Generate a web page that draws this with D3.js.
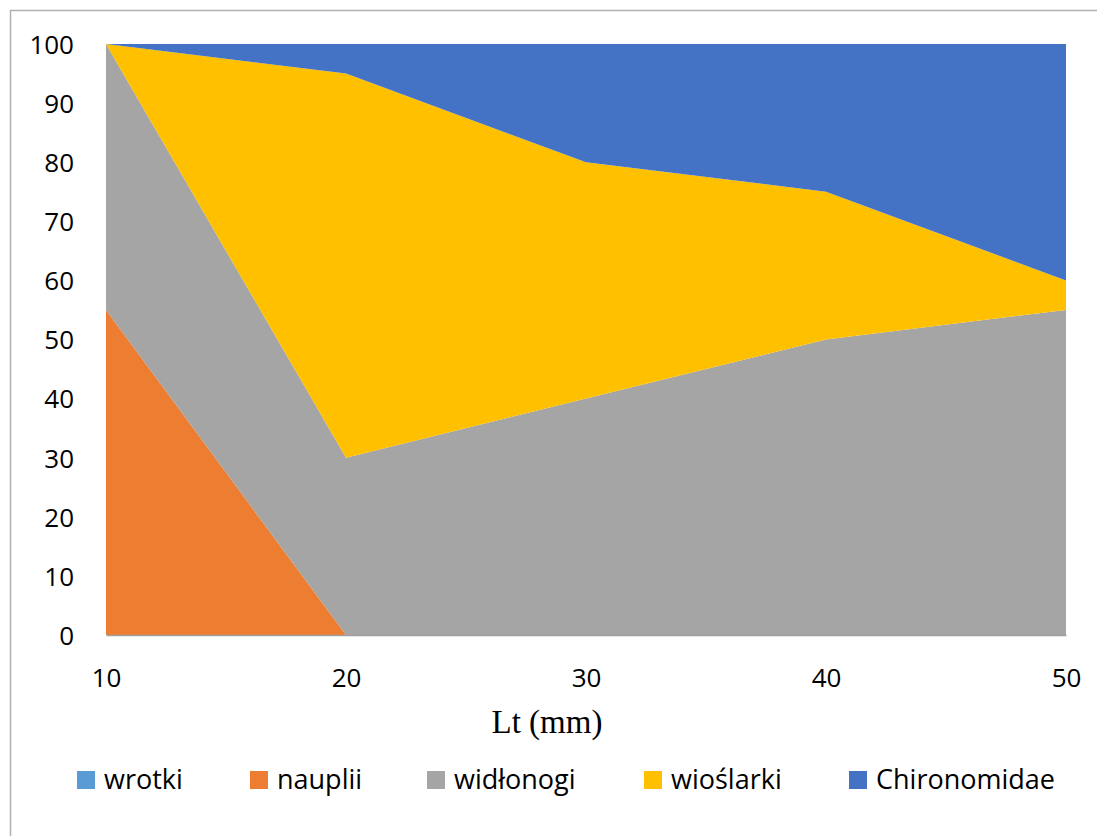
<!DOCTYPE html>
<html><head><meta charset="utf-8">
<script src="https://cdn.jsdelivr.net/npm/d3@7"></script>
<style>body{margin:0;background:#fff;}svg{display:block;}</style>
</head><body>
<script>
const categories = [10, 20, 30, 40, 50];
const seriesNames = ["wrotki", "nauplii", "widłonogi", "wioślarki", "Chironomidae"];
const wrotki = [0, 0, 0, 0, 0];
const nauplii = [55, 0, 0, 0, 0];
const widlonogi = [45, 30, 40, 50, 55];
const wioslarki = [0, 65, 40, 25, 5];
const chironomidae = [0, 5, 20, 25, 40];
const yTicks = [0, 10, 20, 30, 40, 50, 60, 70, 80, 90, 100];
const colors = ["#5B9BD5", "#ED7D31", "#A5A5A5", "#FFC000", "#4472C4"];

const W = 1097, H = 836;
const svg = d3.select("body").append("svg").attr("width", W).attr("height", H);
svg.append("rect").attr("x", 10.5).attr("y", 10.5).attr("width", W + 10).attr("height", H + 10)
  .attr("fill", "#fff").attr("stroke", "#b0b0b0").attr("stroke-width", 1.5);

const m = {l: 106, r: 1066, t: 44, b: 635};
const x = d3.scaleLinear().domain([10, 50]).range([m.l, m.r]);
const y = d3.scaleLinear().domain([0, 100]).range([m.b, m.t]);

const allSeries = [wrotki, nauplii, widlonogi, wioslarki, chironomidae];
const table = categories.map((c, i) => {
  const o = {x: c};
  seriesNames.forEach((n, k) => o[n] = allSeries[k][i]);
  return o;
});
const stacked = d3.stack().keys(seriesNames)(table);
const area = d3.area().x(d => x(d.data.x)).y0(d => y(d[0])).y1(d => y(d[1]));
svg.append("g").selectAll("path").data(stacked).join("path")
  .attr("d", area).attr("fill", (d, i) => colors[i]);

const font = "'Open Sans', 'Liberation Sans', sans-serif";

// axes
const yAxis = d3.axisLeft(y).tickValues(yTicks).tickSize(0).tickPadding(32);
const gy = svg.append("g").attr("transform", `translate(${m.l},0)`).call(yAxis);
gy.select(".domain").remove();
gy.selectAll("text").attr("font-family", font)
  .attr("font-size", 26).attr("fill", "#000").attr("dy", "0.36em");

const xAxis = d3.axisBottom(x).tickValues(categories).tickSize(0).tickPadding(0);
const gx = svg.append("g").attr("transform", `translate(0,${m.b})`).call(xAxis);
gx.select(".domain").attr("stroke", "#a0a0a0").attr("stroke-width", 1.5);
gx.selectAll("text").attr("font-family", font)
  .attr("font-size", 26).attr("fill", "#000").attr("dy", null).attr("y", 52);

svg.append("text").attr("x", 547).attr("y", 733).attr("text-anchor", "middle")
  .attr("font-family", "'Liberation Serif', 'DejaVu Serif', serif").attr("font-size", 33)
  .attr("fill", "#000").text("Lt (mm)");

// legend
const legendX = [77, 250, 427, 644, 849];
const lg = svg.append("g");
seriesNames.forEach((n, i) => {
  lg.append("rect").attr("x", legendX[i]).attr("y", 771).attr("width", 18).attr("height", 18).attr("fill", colors[i]);
  lg.append("text").attr("x", legendX[i] + 27).attr("y", 789)
    .attr("font-family", font).attr("font-size", 27)
    .attr("fill", "#000").text(n);
});
</script>
</body></html>
